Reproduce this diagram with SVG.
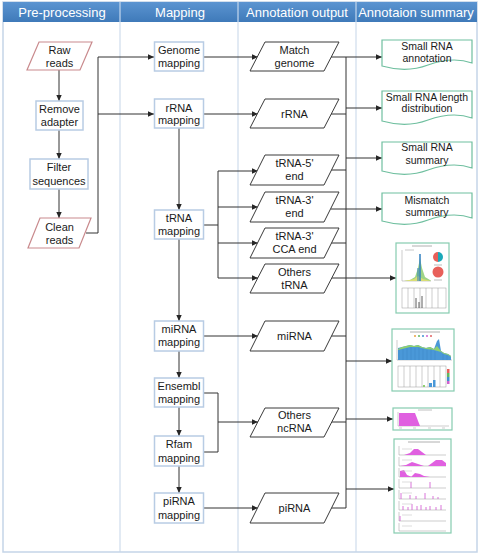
<svg xmlns="http://www.w3.org/2000/svg" width="480" height="557" viewBox="0 0 480 557">
  <defs>
    <linearGradient id="hdr" x1="0" y1="0" x2="0" y2="1">
      <stop offset="0" stop-color="#5b94d1"/>
      <stop offset="1" stop-color="#3f7ab9"/>
    </linearGradient>
    <marker id="arr" viewBox="0 0 10 10" refX="10" refY="5" markerWidth="6" markerHeight="6" markerUnits="userSpaceOnUse" orient="auto">
      <path d="M0,0.5 L10,5 L0,9.5 Z" fill="#262626"/>
    </marker>
  </defs>
  <style>
    text { font-family: "Liberation Sans", Arial, sans-serif; font-size: 11px; fill: #1a1a1a; text-anchor: middle; }
    .hd { font-size: 13px; fill: #ffffff; }
    .sm { font-size: 10.5px; }
    .box { fill: #ffffff; stroke: #b8cce4; stroke-width: 1.5; }
    .io { fill: #ffffff; stroke: #c98a8d; stroke-width: 1.2; }
    .out { fill: #ffffff; stroke: #3a3a3a; stroke-width: 1; }
    .doc { fill: #ffffff; stroke: #6fbf9f; stroke-width: 1.2; }
    .thumb { fill: #ffffff; stroke: #86ccb0; stroke-width: 1.2; }
    .ln { fill: none; stroke: #333333; stroke-width: 1; }
    .ar { fill: none; stroke: #333333; stroke-width: 1; marker-end: url(#arr); }
    .ax { fill: none; stroke: #9a9a9a; stroke-width: 0.5; }
    .mg { fill: #e060e0; stroke: none; }
    .mgl { fill: none; stroke: #d050d0; stroke-width: 0.8; }
  </style>

  <!-- lane frame and header -->
  <g id="lanes">
    <rect x="3" y="2" width="474" height="550" fill="#ffffff" stroke="#c5d5e8" stroke-width="1.5"/>
    <rect x="3" y="2" width="474" height="20" fill="url(#hdr)"/>
    <line x1="120" y1="2" x2="120" y2="552" stroke="#c5d5e8" stroke-width="1"/>
    <line x1="238" y1="2" x2="238" y2="552" stroke="#c5d5e8" stroke-width="1"/>
    <line x1="356" y1="2" x2="356" y2="552" stroke="#c5d5e8" stroke-width="1"/>
    <line x1="120" y1="2" x2="120" y2="22" stroke="#9fc0e4" stroke-width="1"/>
    <line x1="238" y1="2" x2="238" y2="22" stroke="#9fc0e4" stroke-width="1"/>
    <line x1="356" y1="2" x2="356" y2="22" stroke="#9fc0e4" stroke-width="1"/>
    <text class="hd" x="62" y="17">Pre-processing</text>
    <text class="hd" x="180" y="17">Mapping</text>
    <text class="hd" x="297" y="17">Annotation output</text>
    <text class="hd" x="416" y="17">Annotaion summary</text>
  </g>

  <!-- connectors -->
  <g id="connectors">
    <!-- pre-processing chain -->
    <line class="ar" x1="59" y1="70" x2="59" y2="101"/>
    <line class="ar" x1="59" y1="130" x2="59" y2="159"/>
    <line class="ar" x1="59" y1="189" x2="59" y2="218"/>
    <polyline class="ar" points="86,233 98,233 98,57 154,57"/>
    <line class="ar" x1="98" y1="114" x2="154" y2="114"/>
    <!-- mapping chain -->
    <line class="ar" x1="179" y1="128" x2="179" y2="210"/>
    <line class="ar" x1="179" y1="239" x2="179" y2="321"/>
    <line class="ar" x1="179" y1="351" x2="179" y2="378"/>
    <line class="ar" x1="179" y1="407" x2="179" y2="436"/>
    <line class="ar" x1="179" y1="466" x2="179" y2="493"/>
    <!-- mapping to annotation output -->
    <line class="ar" x1="203" y1="57" x2="258" y2="57"/>
    <line class="ar" x1="203" y1="114" x2="258" y2="114"/>
    <polyline class="ln" points="204,225 218,225"/>
    <line class="ln" x1="218" y1="171" x2="218" y2="278"/>
    <line class="ar" x1="218" y1="171" x2="258" y2="171"/>
    <line class="ar" x1="218" y1="207" x2="258" y2="207"/>
    <line class="ar" x1="218" y1="243" x2="258" y2="243"/>
    <line class="ar" x1="218" y1="278" x2="258" y2="278"/>
    <line class="ar" x1="203" y1="336" x2="258" y2="336"/>
    <polyline class="ln" points="203,393 218,393 218,452 203,452"/>
    <line class="ar" x1="218" y1="422" x2="258" y2="422"/>
    <line class="ar" x1="203" y1="508" x2="258" y2="508"/>
    <!-- output bus -->
    <line class="ln" x1="346" y1="57" x2="346" y2="508"/>
    <line class="ln" x1="331" y1="114" x2="346" y2="114"/>
    <line class="ln" x1="331" y1="170" x2="346" y2="170"/>
    <line class="ln" x1="331" y1="243" x2="346" y2="243"/>
    <line class="ln" x1="331" y1="336" x2="346" y2="336"/>
    <line class="ln" x1="331" y1="422" x2="346" y2="422"/>
    <line class="ln" x1="331" y1="508" x2="346" y2="508"/>
    <!-- bus to summaries -->
    <line class="ar" x1="331" y1="57" x2="382" y2="57"/>
    <line class="ar" x1="346" y1="108" x2="382" y2="108"/>
    <line class="ar" x1="346" y1="158" x2="382" y2="158"/>
    <line class="ar" x1="331" y1="209" x2="382" y2="209"/>
    <line class="ar" x1="331" y1="278" x2="396" y2="278"/>
    <line class="ar" x1="346" y1="361" x2="392" y2="361"/>
    <line class="ar" x1="346" y1="419" x2="393" y2="419"/>
    <line class="ar" x1="346" y1="489" x2="394" y2="489"/>
  </g>

  <!-- pre-processing -->
  <g id="raw-reads">
    <polygon class="io" points="39,42 92,42 80,70 27,70"/>
    <text x="59.5" y="54">Raw</text>
    <text x="59.5" y="67">reads</text>
  </g>
  <g id="remove-adapter">
    <rect class="box" x="36" y="101" width="47" height="29"/>
    <text x="59.5" y="113">Remove</text>
    <text x="59.5" y="126">adapter</text>
  </g>
  <g id="filter-sequences">
    <rect class="box" x="30" y="159" width="58" height="30"/>
    <text x="59" y="171">Filter</text>
    <text x="59" y="185">sequences</text>
  </g>
  <g id="clean-reads">
    <polygon class="io" points="40,218 91,218 79,248 28,248"/>
    <text x="59.5" y="231">Clean</text>
    <text x="59.5" y="244">reads</text>
  </g>

  <!-- mapping -->
  <g id="genome-mapping">
    <rect class="box" x="154.5" y="42" width="49" height="29"/>
    <text x="179" y="54">Genome</text>
    <text x="179" y="67">mapping</text>
  </g>
  <g id="rrna-mapping">
    <rect class="box" x="154.5" y="99" width="49" height="29"/>
    <text x="179" y="112">rRNA</text>
    <text x="179" y="124">mapping</text>
  </g>
  <g id="trna-mapping">
    <rect class="box" x="154.5" y="210" width="49" height="29"/>
    <text x="179" y="222">tRNA</text>
    <text x="179" y="235">mapping</text>
  </g>
  <g id="mirna-mapping">
    <rect class="box" x="154.5" y="321" width="49" height="30"/>
    <text x="179" y="333">miRNA</text>
    <text x="179" y="346">mapping</text>
  </g>
  <g id="ensembl-mapping">
    <rect class="box" x="154.5" y="378" width="49" height="29"/>
    <text x="179" y="390">Ensembl</text>
    <text x="179" y="403">mapping</text>
  </g>
  <g id="rfam-mapping">
    <rect class="box" x="154.5" y="436" width="49" height="30"/>
    <text x="179" y="448">Rfam</text>
    <text x="179" y="462">mapping</text>
  </g>
  <g id="pirna-mapping">
    <rect class="box" x="154.5" y="493" width="49" height="30"/>
    <text x="179" y="505">piRNA</text>
    <text x="179" y="519">mapping</text>
  </g>

  <!-- annotation output -->
  <g id="match-genome">
    <polygon class="out" points="265,42 339,42 324,71 250,71"/>
    <text x="294.5" y="54">Match</text>
    <text x="294.5" y="67">genome</text>
  </g>
  <g id="rrna">
    <polygon class="out" points="265,99 339,99 324,128 250,128"/>
    <text x="294.5" y="118">rRNA</text>
  </g>
  <g id="trna-5-end">
    <polygon class="out" points="265,155 339,155 324,185 250,185"/>
    <text x="294.5" y="167">tRNA-5'</text>
    <text x="294.5" y="180">end</text>
  </g>
  <g id="trna-3-end">
    <polygon class="out" points="265,192 339,192 324,222 250,222"/>
    <text x="294.5" y="204">tRNA-3'</text>
    <text x="294.5" y="217">end</text>
  </g>
  <g id="trna-3-cca-end">
    <polygon class="out" points="265,228 339,228 324,258 250,258"/>
    <text x="294.5" y="240">tRNA-3'</text>
    <text x="294.5" y="253">CCA end</text>
  </g>
  <g id="others-trna">
    <polygon class="out" points="265,264 339,264 324,293 250,293"/>
    <text x="294.5" y="276">Others</text>
    <text x="294.5" y="289">tRNA</text>
  </g>
  <g id="mirna">
    <polygon class="out" points="265,321 339,321 324,351 250,351"/>
    <text x="294.5" y="340">miRNA</text>
  </g>
  <g id="others-ncrna">
    <polygon class="out" points="265,408 339,408 324,437 250,437"/>
    <text x="294.5" y="419">Others</text>
    <text x="294.5" y="432">ncRNA</text>
  </g>
  <g id="pirna">
    <polygon class="out" points="265,493 339,493 324,523 250,523"/>
    <text x="294.5" y="512">piRNA</text>
  </g>

  <!-- annotation summary documents -->
  <g id="small-rna-annotation">
    <path class="doc" d="M382,40 H472 V63 C458,58 442,60 428,65 C412,71 396,70 382,66 Z"/>
    <text class="sm" x="427" y="50">Small RNA</text>
    <text class="sm" x="427" y="62">annotation</text>
  </g>
  <g id="small-rna-length-distribution">
    <path class="doc" d="M382,91 H472 V118 C458,113 442,115 428,120 C412,126 396,125 382,121 Z"/>
    <text class="sm" x="427" y="101">Small RNA length</text>
    <text class="sm" x="427" y="112">distribution</text>
  </g>
  <g id="small-rna-summary">
    <path class="doc" d="M382,142 H472 V168 C458,163 442,165 428,170 C412,176 396,175 382,171 Z"/>
    <text class="sm" x="427" y="151">Small RNA</text>
    <text class="sm" x="427" y="164">summary</text>
  </g>
  <g id="mismatch-summary">
    <path class="doc" d="M382,193 H472 V218 C458,213 442,215 428,220 C412,226 396,225 382,221 Z"/>
    <text class="sm" x="427" y="204">Mismatch</text>
    <text class="sm" x="427" y="216">summary</text>
  </g>

  <!-- chart thumbnails -->
  <g id="trna-chart">
    <rect class="thumb" x="396" y="243" width="53" height="70"/>
    <line x1="412" y1="246" x2="432" y2="246" stroke="#b0b0b0" stroke-width="1"/>
    <line x1="405" y1="250" x2="414" y2="250" stroke="#c8c8c8" stroke-width="1"/>
    <path class="ax" d="M402,250 V281 H431"/>
    <path d="M404,281 L410,280 L415,277 L418,268 L420,258 L422,268 L425,277 L430,280 L431,281 Z" fill="#9ed486"/>
    <path d="M404,281 L414,279 L418,276 L420,277 L423,279 L431,281 Z" fill="#e8e070" opacity="0.8"/>
    <line x1="420" y1="254" x2="420" y2="281" stroke="#2f7fc0" stroke-width="1.5"/>
    <line x1="418" y1="268" x2="418" y2="281" stroke="#2f7fc0" stroke-width="1"/>
    <path d="M438,252 A5,5 0 0 0 438,262 Z" fill="#e8605a"/>
    <path d="M438,252 A5,5 0 0 1 438,262 Z" fill="#1aa9b9"/>
    <circle cx="438" cy="272" r="5.5" fill="#e8605a"/>
    <line x1="434" y1="265" x2="442" y2="265" stroke="#bbbbbb" stroke-width="1"/>
    <line x1="434" y1="280" x2="442" y2="280" stroke="#bbbbbb" stroke-width="1"/>
    <rect x="402" y="288" width="44" height="20" fill="none" stroke="#9a9a9a" stroke-width="0.5"/>
    <path class="ax" d="M408,288 V308 M414,288 V308 M420,288 V308 M426,288 V308 M432,288 V308 M438,288 V308"/>
    <path d="M416,308 V298 M419,308 V302 M422,308 V296" stroke="#333333" stroke-width="0.8" fill="none"/>
  </g>
  <g id="mirna-chart">
    <rect class="thumb" x="392" y="329" width="62" height="62"/>
    <line x1="410" y1="332" x2="440" y2="332" stroke="#b0b0b0" stroke-width="1"/>
    <g stroke-width="1.5">
      <line x1="414" y1="336" x2="416" y2="336" stroke="#e8a040"/>
      <line x1="418" y1="336" x2="420" y2="336" stroke="#60b860"/>
      <line x1="422" y1="336" x2="424" y2="336" stroke="#4090d0"/>
      <line x1="426" y1="336" x2="428" y2="336" stroke="#d060d0"/>
      <line x1="430" y1="336" x2="432" y2="336" stroke="#e06060"/>
    </g>
    <path class="ax" d="M397,340 V360 H452"/>
    <path d="M398,360 V348 L402,347 L406,346 L410,345 L414,346 L418,345 L422,347 L426,348 L430,347 L434,349 L437,341 L439,339 L441,351 L444,353 L448,354 L451,356 V360 Z" fill="#4a98d8"/>
    <path d="M398,349 L402,347 L406,346 L410,345 L414,346 L418,345 L422,347 L426,348 L430,347 L434,349 L437,346 L441,351 L444,353 L448,354 L451,356 L451,357 L448,355 L444,354 L441,352 L434,350 L426,349 L418,347 L410,347 L402,349 L398,350 Z" fill="#8fd070"/>
    <path d="M399,360 V350 M403,360 V349 M407,360 V348 M411,360 V347 M415,360 V348 M419,360 V347 M423,360 V349 M427,360 V350 M431,360 V349 M435,360 V351 M443,360 V354 M447,360 V355" stroke="#3a7fc0" stroke-width="0.4" fill="none"/>
    <rect x="398" y="366" width="48" height="21" fill="none" stroke="#9a9a9a" stroke-width="0.5"/>
    <path class="ax" d="M404,366 V387 M410,366 V387 M416,366 V387 M422,366 V387 M428,366 V387 M434,366 V387 M440,366 V387"/>
    <rect x="429" y="383" width="3" height="4" fill="#4a98d8"/>
    <rect x="433" y="380" width="2.5" height="7" fill="#4a98d8"/>
    <rect x="423" y="385" width="2" height="2" fill="#8fd070"/>
    <rect x="447" y="369" width="2.5" height="4" fill="#e8605a"/>
    <rect x="447" y="373" width="2.5" height="4" fill="#60b860"/>
    <rect x="447" y="377" width="2.5" height="4" fill="#4090d0"/>
    <rect x="447" y="381" width="2.5" height="3" fill="#d060d0"/>
  </g>
  <g id="ncrna-chart">
    <rect class="thumb" x="393" y="408" width="59" height="22"/>
    <line x1="418" y1="410" x2="432" y2="410" stroke="#b0b0b0" stroke-width="0.8"/>
    <path class="ax" d="M398,412 V426 H449"/>
    <path class="mg" d="M399,426 V413 H415 L420,426 Z"/>
    <path class="ax" d="M399,428 H402 M413,428 H416 M428,428 H431 M442,428 H445"/>
  </g>
  <g id="pirna-chart">
    <rect class="thumb" x="394" y="439" width="57" height="94"/>
    <line x1="408" y1="442" x2="440" y2="442" stroke="#b0b0b0" stroke-width="1"/>
    <!-- stacked coverage panels -->
    <path class="ax" d="M399,446 V455 H446 M399,457 V466 H446 M399,468 V477 H446 M399,479 V488 H446 M399,490 V499 H446 M399,501 V510 H446 M399,512 V521 H446 M399,523 V531 H446"/>
    <path class="mg" d="M404,455 L410,453 L414,449 L418,449 L422,452 L426,455 Z"/>
    <path class="mg" d="M400,466 L406,465 L412,462 L418,464 L424,466 Z M428,466 L432,463 L436,460 L442,460 L446,463 L446,466 Z"/>
    <path class="mg" d="M400,477 V471 L404,470 L407,475 L412,477 Z M411,477 L415,473 L420,474 L424,476 L430,477 Z"/>
    <path class="mgl" d="M411,488 V482 M430,488 V482"/>
    <path class="mgl" d="M401,499 V493 M410,499 V495 M416,499 V496 M425,499 V493 M433,499 V496 M438,499 V497"/>
    <path class="mgl" d="M403,510 V506 M408,510 V507 M412,510 V504 M417,510 V506 M421,510 V505 M426,510 V507 M430,510 V506 M436,510 V507 M441,510 V505"/>
    <path class="mgl" d="M400,521 V516"/>
    <line x1="402" y1="449" x2="412" y2="449" stroke="#c8c8c8" stroke-width="0.6"/>
    <line x1="402" y1="460" x2="412" y2="460" stroke="#c8c8c8" stroke-width="0.6"/>
    <line x1="402" y1="471" x2="412" y2="471" stroke="#c8c8c8" stroke-width="0.6"/>
    <line x1="402" y1="482" x2="412" y2="482" stroke="#c8c8c8" stroke-width="0.6"/>
    <line x1="402" y1="493" x2="412" y2="493" stroke="#c8c8c8" stroke-width="0.6"/>
    <line x1="402" y1="504" x2="412" y2="504" stroke="#c8c8c8" stroke-width="0.6"/>
    <line x1="402" y1="515" x2="412" y2="515" stroke="#c8c8c8" stroke-width="0.6"/>
    <line x1="402" y1="526" x2="412" y2="526" stroke="#c8c8c8" stroke-width="0.6"/>
  </g>
</svg>
